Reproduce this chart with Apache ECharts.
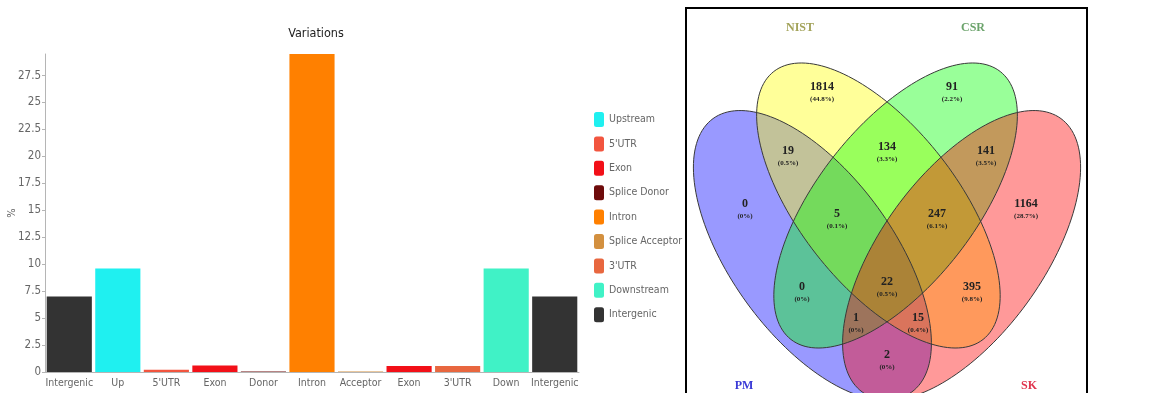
<!DOCTYPE html>
<html>
<head>
<meta charset="utf-8">
<script src="https://cdn.jsdelivr.net/npm/echarts@6/dist/echarts.min.js"></script>
<style>
  html, body { margin: 0; padding: 0; background: #fff; }
  #chart { width: 1172px; height: 393px; }
</style>
</head>
<body>
<div id="chart"></div>
<script>
// ---- Bar chart data: share of variants per genomic feature (%) ----
const categories = ['Intergenic', 'Up', "5'UTR", 'Exon', 'Donor', 'Intron', 'Acceptor', 'Exon', "3'UTR", 'Down', 'Intergenic'];
const percentages = [7.0, 9.6, 0.2, 0.6, 0.05, 29.5, 0.05, 0.55, 0.55, 9.6, 7.0];
// feature class of every bar (drives colour and legend)
const categoryClass = ['Intergenic', 'Upstream', "5'UTR", 'Exon', 'Splice Donor', 'Intron', 'Splice Acceptor', 'Exon', "3'UTR", 'Downstream', 'Intergenic'];
const classNames = ['Upstream', "5'UTR", 'Exon', 'Splice Donor', 'Intron', 'Splice Acceptor', "3'UTR", 'Downstream', 'Intergenic'];
const classColors = ['#1ff0f0', '#f2553f', '#f21018', '#6e0b0b', '#ff8000', '#d3903f', '#e8673f', '#40f2c6', '#333333'];
const yTickStep = 2.5;

// ---- Venn data: variant counts per region ----
const vennSets = ['NIST', 'CSR', 'PM', 'SK'];
const vennRegions = ['NIST', 'CSR', 'PM', 'SK', 'PM&NIST', 'NIST&CSR', 'CSR&SK', 'PM&NIST&CSR', 'NIST&CSR&SK',
                     'PM&CSR', 'PM&NIST&CSR&SK', 'NIST&SK', 'PM&CSR&SK', 'PM&NIST&SK', 'PM&SK'];
const vennCounts = [1814, 91, 0, 1164, 19, 134, 141, 5, 247, 0, 22, 395, 1, 15, 2];

// ---- Venn layout (panel units: 1 unit = 1 px inside the framed panel) ----
const vennShapes = [
  // centre, semi-axes, tilt of the long axis (degrees, clockwise from x)
  { set: 'PM',   cx: 126.4, cy: 247.3, a: 169, b: 81, tilt: 54,  fill: 'rgba(0,0,255,0.4)' },
  { set: 'NIST', cx: 192.4, cy: 197.5, a: 170, b: 79, tilt: 52,  fill: 'rgba(255,255,0,0.4)' },
  { set: 'CSR',  cx: 209.6, cy: 197.5, a: 170, b: 79, tilt: 128, fill: 'rgba(0,255,0,0.4)' },
  { set: 'SK',   cx: 275.6, cy: 247.3, a: 169, b: 81, tilt: 126, fill: 'rgba(255,0,0,0.4)' }
];
const vennLabelPos = [
  [136, 84], [266, 84], [59, 201], [340, 201], [102, 148], [201, 144], [300, 148], [151, 211], [251, 211],
  [116, 284], [201, 279], [286, 284], [170, 315], [232, 315], [201, 352]
];
const vennSetLabelPos = { NIST: [114, 20], CSR: [287, 20], PM: [58, 378], SK: [343, 378] };
const vennSetColors = { NIST: '#a3a35a', CSR: '#6ba36b', PM: '#3a3ad6', SK: '#e0344e' };

const NARROW = "'Liberation Sans Narrow','Arial Narrow','DejaVu Sans Condensed',sans-serif";
const SERIF = "'Liberation Serif','Times New Roman','DejaVu Serif',serif";

const vennTotal = vennCounts.reduce((s, v) => s + v, 0);
function pctText(v) {
  const p = Math.round(v / vennTotal * 1000) / 10;
  return '(' + p + '%)';
}

function ellipsePoints(e, api) {
  const r = e.tilt * Math.PI / 180;
  const pts = [];
  const n = 160;
  for (let i = 0; i < n; i++) {
    const t = i / n * Math.PI * 2;
    const x = e.cx + e.a * Math.cos(t) * Math.cos(r) - e.b * Math.sin(t) * Math.sin(r);
    const y = e.cy + e.a * Math.cos(t) * Math.sin(r) + e.b * Math.sin(t) * Math.cos(r);
    pts.push(api.coord([x, y]));
  }
  return pts;
}

const yMax = Math.max(...percentages);

const barSeries = classNames.map((name, k) => ({
  name: name,
  type: 'bar',
  stack: 'share',
  xAxisIndex: 0,
  yAxisIndex: 0,
  barCategoryGap: '7%',
  itemStyle: { color: classColors[k] },
  emphasis: { disabled: true },
  data: categories.map((c, i) => (categoryClass[i] === name ? percentages[i] : null))
}));

const vennFillSeries = {
  type: 'custom',
  name: 'venn-fill',
  coordinateSystem: 'cartesian2d',
  xAxisIndex: 1,
  yAxisIndex: 1,
  z: 3,
  silent: true,
  clip: false,
  data: vennShapes.map(e => [e.cx, e.cy]),
  renderItem: function (params, api) {
    const e = vennShapes[params.dataIndex];
    return { type: 'polygon', shape: { points: ellipsePoints(e, api) }, style: { fill: e.fill, stroke: 'none' } };
  }
};

const vennLineSeries = {
  type: 'custom',
  name: 'venn-line',
  coordinateSystem: 'cartesian2d',
  xAxisIndex: 1,
  yAxisIndex: 1,
  z: 4,
  silent: true,
  clip: false,
  data: vennShapes.map(e => [e.cx, e.cy]),
  renderItem: function (params, api) {
    const e = vennShapes[params.dataIndex];
    return { type: 'polygon', shape: { points: ellipsePoints(e, api) }, style: { fill: 'none', stroke: '#3a3a3a', lineWidth: 1 } };
  }
};

const vennLabelSeries = {
  type: 'custom',
  name: 'venn-labels',
  coordinateSystem: 'cartesian2d',
  xAxisIndex: 1,
  yAxisIndex: 1,
  z: 5,
  silent: true,
  clip: false,
  data: vennLabelPos,
  renderItem: function (params, api) {
    const p = api.coord([api.value(0), api.value(1)]);
    const v = vennCounts[params.dataIndex];
    return {
      type: 'group',
      children: [
        { type: 'text', x: p[0], y: p[1] - 5,
          style: { text: String(v), font: 'bold 12px ' + SERIF, fill: '#222', align: 'center', verticalAlign: 'middle', textAlign: 'center', textVerticalAlign: 'middle' } },
        { type: 'text', x: p[0], y: p[1] + 7,
          style: { text: pctText(v), font: 'bold 7px ' + SERIF, fill: '#222', align: 'center', verticalAlign: 'middle', textAlign: 'center', textVerticalAlign: 'middle' } }
      ]
    };
  }
};

const vennSetSeries = {
  type: 'custom',
  name: 'venn-sets',
  coordinateSystem: 'cartesian2d',
  xAxisIndex: 1,
  yAxisIndex: 1,
  z: 5,
  silent: true,
  clip: false,
  data: vennSets.map(s => vennSetLabelPos[s]),
  renderItem: function (params, api) {
    const p = api.coord([api.value(0), api.value(1)]);
    const s = vennSets[params.dataIndex];
    return { type: 'text', x: p[0], y: p[1],
      style: { text: s, font: 'bold 12px ' + SERIF, fill: vennSetColors[s], align: 'center', verticalAlign: 'middle', textAlign: 'center', textVerticalAlign: 'middle' } };
  }
};

const option = {
  animation: false,
  backgroundColor: '#fff',
  title: {
    text: 'Variations',
    left: 311,
    textAlign: 'center',
    top: 22,
    textStyle: { fontFamily: NARROW, fontSize: 12.5, fontWeight: 'normal', color: '#222' }
  },
  legend: {
    orient: 'vertical',
    left: 589,
    top: 107,
    itemWidth: 10,
    itemHeight: 15,
    itemGap: 9.4,
    itemTextGap: 6,
    icon: 'roundRect',
    selectedMode: false,
    data: classNames,
    textStyle: { fontFamily: NARROW, fontSize: 10.5, color: '#666' }
  },
  grid: [
    { left: 45, top: 54, width: 534, height: 318, outerBoundsMode: 'none' },
    { left: 686, top: 8, width: 401, height: 387, outerBoundsMode: 'none', show: true, borderColor: '#000', borderWidth: 2, backgroundColor: 'transparent' }
  ],
  xAxis: [
    {
      type: 'category', gridIndex: 0, data: categories,
      axisLine: { lineStyle: { color: '#b5b5b5' } },
      axisTick: { show: false },
      axisLabel: { interval: 0, margin: 6, fontFamily: NARROW, fontSize: 10.5, color: '#666' }
    },
    { type: 'value', gridIndex: 1, min: 0, max: 401, show: false }
  ],
  yAxis: [
    {
      type: 'value', gridIndex: 0, min: 0, max: yMax, interval: yTickStep,
      name: '%', nameLocation: 'middle', nameGap: 27, nameMoveOverlap: false,
      nameTextStyle: { fontFamily: NARROW, fontSize: 11, color: '#666' },
      axisLine: { show: true, lineStyle: { color: '#b5b5b5' } },
      axisTick: { show: true, length: 3, lineStyle: { color: '#b5b5b5' } },
      axisLabel: { showMaxLabel: false, margin: 4, fontFamily: NARROW, fontSize: 11.5, color: '#666' },
      splitLine: { show: false }
    },
    { type: 'value', gridIndex: 1, min: 0, max: 387, inverse: true, show: false }
  ],
  series: [...barSeries, vennFillSeries, vennLineSeries, vennLabelSeries, vennSetSeries]
};

const chart = echarts.init(document.getElementById('chart'));
chart.setOption(option);
</script>
</body>
</html>
